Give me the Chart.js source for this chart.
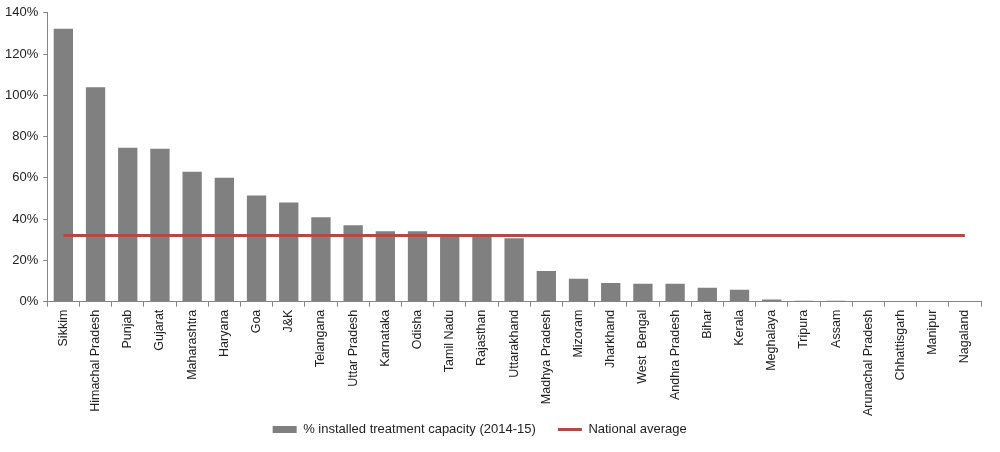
<!DOCTYPE html>
<html>
<head>
<meta charset="utf-8">
<script src="https://cdn.jsdelivr.net/npm/chart.js@4/dist/chart.umd.min.js"></script>
<style>
  html, body { margin: 0; padding: 0; background: #fff; }
  #wrap { width: 1000px; height: 452px; position: relative; }
</style>
</head>
<body>
<div id="wrap"><canvas id="c"></canvas></div>
<script>
const states = ["Sikkim", "Himachal Pradesh", "Punjab", "Gujarat", "Maharashtra", "Haryana", "Goa", "J&K",
  "Telangana", "Uttar Pradesh", "Karnataka", "Odisha", "Tamil Nadu", "Rajasthan", "Uttarakhand",
  "Madhya Pradesh", "Mizoram", "Jharkhand", "West  Bengal", "Andhra Pradesh", "Bihar", "Kerala",
  "Meghalaya", "Tripura", "Assam", "Arunachal Pradesh", "Chhattisgarh", "Manipur", "Nagaland"];
const capacityPct = [132.3, 103.9, 74.6, 74.1, 63.0, 60.1, 51.5, 48.1, 40.9, 37.0, 34.1, 34.1, 32.5, 32.2, 30.8,
  14.9, 11.1, 9.1, 8.7, 8.7, 6.7, 5.8, 1.0, 0.4, 0.4, 0, 0, 0, 0];
const nationalAvg = 32.1;
const avgSeries = states.map(() => nationalAvg);
const yTicks = [0, 20, 40, 60, 80, 100, 120, 140];

const fam = "'Liberation Sans', Arial, sans-serif";
const axisGray = '#868686';
const barColor = '#808080';
const lineColor = '#B04B48';

new Chart(document.getElementById('c'), {
  data: {
    labels: states,
    datasets: [
      {
        type: 'bar',
        label: '% installed treatment capacity (2014-15)',
        data: capacityPct,
        backgroundColor: barColor,
        borderWidth: 0,
        barPercentage: 0.6,
        categoryPercentage: 1.0,
        order: 2
      },
      {
        type: 'line',
        label: 'National average',
        data: avgSeries,
        borderColor: lineColor,
        backgroundColor: lineColor,
        borderWidth: 3,
        pointRadius: 0,
        pointHoverRadius: 0,
        fill: false,
        order: 1
      }
    ]
  },
  options: {
    responsive: true,
    maintainAspectRatio: false,
    animation: false,
    layout: { padding: { left: 0, right: 19, top: 1, bottom: 6 } },
    plugins: {
      tooltip: { enabled: false },
      legend: {
        position: 'bottom',
        labels: {
          font: { family: fam, size: 13 },
          color: '#222',
          usePointStyle: true,
          pointStyleWidth: 24,
          boxHeight: 7,
          padding: 4,
          generateLabels: (chart) => chart.data.datasets.map((ds, i) => ({
            text: ds.type === 'bar' ? ds.label + '     ' : ds.label + '      ',
            fillStyle: ds.type === 'bar' ? barColor : lineColor,
            strokeStyle: ds.type === 'bar' ? barColor : lineColor,
            lineWidth: ds.type === 'bar' ? 0 : 3,
            pointStyle: ds.type === 'bar' ? 'rect' : 'line',
            fontColor: '#222',
            hidden: false,
            datasetIndex: i
          }))
        }
      }
    },
    scales: {
      x: {
        offset: true,
        grid: {
          offset: true,
          drawOnChartArea: false,
          drawTicks: true,
          tickLength: 5,
          color: axisGray
        },
        border: { color: axisGray, width: 1 },
        ticks: {
          font: { family: fam, size: 12.5 },
          color: '#222',
          minRotation: 90,
          maxRotation: 90,
          autoSkip: false,
          padding: 3
        }
      },
      y: {
        min: 0,
        max: 140,
        afterBuildTicks: (axis) => { axis.ticks = yTicks.map(v => ({ value: v })); },
        grid: {
          drawOnChartArea: false,
          drawTicks: true,
          tickLength: 4,
          color: axisGray
        },
        border: { color: axisGray, width: 1 },
        ticks: {
          font: { family: fam, size: 13 },
          color: '#222',
          padding: 5,
          callback: (v) => v + '%'
        }
      }
    }
  }
});
</script>
</body>
</html>
